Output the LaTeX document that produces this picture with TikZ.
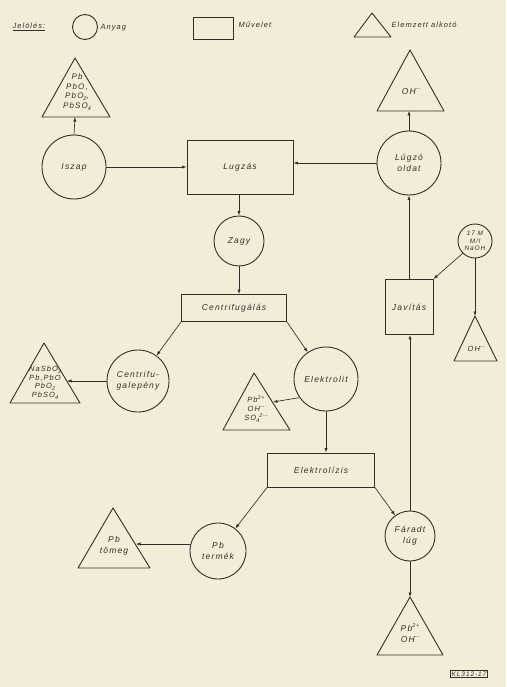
\documentclass[tikz,border=0pt]{standalone}
\usepackage{fontspec}
\newfontfamily\lbl{Liberation Sans}[LetterSpace=14]
\usetikzlibrary{arrows.meta}
\definecolor{paper}{RGB}{242,237,217}
\definecolor{ink}{RGB}{50,46,40}
% chemical sub- and superscripts
\newcommand\lo[1]{\raisebox{-0.5ex}{\fontsize{5.5}{5.5}\selectfont #1}}
\newcommand\hi[1]{\raisebox{0.9ex}{\fontsize{5.5}{5.5}\selectfont #1}}
\begin{document}
\begin{tikzpicture}[x=1pt,y=-1pt,
  every node/.style={text=ink, align=center,
    font=\lbl\itshape\fontsize{8.5}{11}\selectfont},
  anyag/.style={circle, draw=ink, line width=0.9pt, inner sep=0pt, minimum size=#1},
  muvelet/.style={rectangle, draw=ink, line width=0.9pt, inner sep=0pt},
  tri/.style={draw=ink, line width=0.9pt, line join=round},
  small/.style={font=\lbl\itshape\fontsize{7.5}{9}\selectfont},
  flow/.style={draw=ink, line width=0.65pt, -{Latex[length=4.5pt,width=3.2pt]}}
]
% paper
\fill[paper] (0,0) rectangle (506,687);

% ---------- legend ----------
\node[anchor=west, small] (jel) at (9,27) {\underline{Jelölés:}};
\node[anyag=25] (lgA) at (85,27) {};
\node[anchor=west, small] (lgAt) at (97,28) {Anyag};
\node[muvelet, minimum width=40, minimum height=22] (lgM) at (213,28) {};
\node[anchor=west, small] (lgMt) at (235,25) {Művelet};
\coordinate (lgE-a) at (372,13);
\coordinate (lgE-l) at (354,37);
\coordinate (lgE-r) at (391,37);
\draw[tri] (lgE-a) -- (lgE-l) -- (lgE-r) -- cycle;
\node[anchor=west, small] (lgEt) at (388,25) {Elemzett alkotó};

% ---------- material (circles) ----------
\node[anyag=64] (iszap) at (74,167) {Iszap};
\node[anyag=64] (lugzo) at (409,163) {Lúgzó\\oldat};
\node[anyag=50] (zagy) at (239,241) {Zagy};
\node[anyag=62] (cpeny) at (138,381) {Centrifu-\\galepény};
\node[anyag=64] (elektrolit) at (326,379) {Elektrolit};
\node[anyag=56] (ptermek) at (218,551) {Pb\\termék};
\node[anyag=50] (faradt) at (410,536) {Fáradt\\lúg};
\node[anyag=34, font=\lbl\itshape\fontsize{6.5}{7.5}\selectfont] (naoh) at (475,241)
  {17 M\\M/l\\NaOH};

% ---------- operations (boxes) ----------
\node[muvelet, minimum width=106, minimum height=54] (lugzas) at (240,167) {Lugzás};
\node[muvelet, minimum width=105, minimum height=27] (centri) at (234,308) {Centrifugálás};
\node[muvelet, minimum width=107, minimum height=34] (elektrolizis) at (321,470) {Elektrolízis};
\node[muvelet, minimum width=48, minimum height=55] (javitas) at (409,307) {Javítás};

% ---------- analysed components (triangles) ----------
% Pb, PbO, PbO2, PbSO4 above the slurry
\coordinate (tA-a) at (75,58); \coordinate (tA-l) at (42,117); \coordinate (tA-r) at (110,117);
\draw[tri] (tA-a) -- (tA-l) -- (tA-r) -- cycle;
\node[font=\lbl\itshape\fontsize{8}{9.5}\selectfont] (tA) at (77,92)
  {Pb\\PbO,\\PbO\lo{2},\\PbSO\lo{4}};
\coordinate (tA-in) at (75,117);

% OH- above the leach liquor
\coordinate (tB-a) at (410,50); \coordinate (tB-l) at (377,111); \coordinate (tB-r) at (444,111);
\draw[tri] (tB-a) -- (tB-l) -- (tB-r) -- cycle;
\node (tB) at (411,92) {OH\hi{--}};
\coordinate (tB-in) at (409,111);

% filter cake components
\coordinate (tC-a) at (44,343); \coordinate (tC-l) at (10,403); \coordinate (tC-r) at (80,403);
\draw[tri] (tC-a) -- (tC-l) -- (tC-r) -- cycle;
\node[font=\lbl\itshape\fontsize{7.5}{8.5}\selectfont] (tC) at (45,383)
  {NaSbO\lo{3}\\Pb,PbO\\PbO\lo{2}\\PbSO\lo{4}};
\coordinate (tC-in) at (67,381);

% electrolyte components
\coordinate (tD-a) at (254,373); \coordinate (tD-l) at (223,430); \coordinate (tD-r) at (290,430);
\draw[tri] (tD-a) -- (tD-l) -- (tD-r) -- cycle;
\node[font=\lbl\itshape\fontsize{7.5}{9}\selectfont] (tD) at (256,409)
  {Pb\hi{2+}\\OH\hi{--}\\SO\lo{4}\hi{2--}};
\coordinate (tD-in) at (273,402);

% OH- below the NaOH make-up
\coordinate (tE-a) at (475,316); \coordinate (tE-l) at (454,361); \coordinate (tE-r) at (497,361);
\draw[tri] (tE-a) -- (tE-l) -- (tE-r) -- cycle;
\node[small] (tE) at (476,349) {OH\hi{--}};

% lead mass
\coordinate (tF-a) at (113,508); \coordinate (tF-l) at (78,568); \coordinate (tF-r) at (150,568);
\draw[tri] (tF-a) -- (tF-l) -- (tF-r) -- cycle;
\node (tF) at (114,546) {Pb\\tömeg};
\coordinate (tF-in) at (136,544);

% spent liquor components
\coordinate (tG-a) at (410,597); \coordinate (tG-l) at (377,655); \coordinate (tG-r) at (443,655);
\draw[tri] (tG-a) -- (tG-l) -- (tG-r) -- cycle;
\node (tG) at (410,633) {Pb\hi{2+}\\OH\hi{--}};

% ---------- flows ----------
\draw[flow] (iszap.north) -- (tA-in);
\draw[flow] (iszap.east) -- (lugzas.west);
\draw[flow] (lugzo.west) -- (lugzo.west -| lugzas.east);
\draw[flow] (lugzo.north) -- (tB-in);
\draw[flow] (lugzas.south -| zagy.north) -- (zagy.north);
\draw[flow] (zagy.south) -- (zagy.south |- centri.north);
\draw[flow] (centri.south west) -- (cpeny);
\draw[flow] (centri.south east) -- (elektrolit);
\draw[flow] (cpeny.west) -- (tC-in);
\draw[flow] (elektrolit.215) -- (tD-in);
\draw[flow] (elektrolit.south) -- (elektrolit.south |- elektrolizis.north);
\draw[flow] (elektrolizis.south west) -- (ptermek);
\draw[flow] (elektrolizis.south east) -- (faradt);
\draw[flow] (ptermek.west |- tF-in) -- (tF-in);
\draw[flow] (faradt.north) -- (faradt.north |- javitas.south);
\draw[flow] (javitas.north) -- (lugzo.south);
\draw[flow] (naoh.225) -- (javitas.north east);
\draw[flow] (naoh.south) -- (tE-a);
\draw[flow] (faradt.south) -- (tG-a);

% drawing number
\node[draw=ink, line width=0.6pt, inner sep=1.2pt,
  font=\lbl\itshape\fontsize{6.5}{6.5}\selectfont] (kl) at (469,674) {KL312-17};
\end{tikzpicture}
\end{document}
